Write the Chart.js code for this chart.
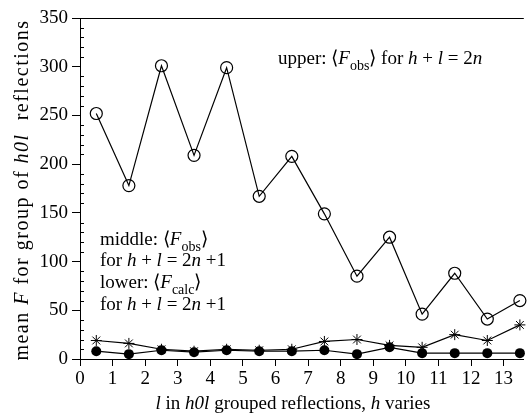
<!DOCTYPE html>
<html>
<head>
    <title>Mean F for h0l groups</title>
    <style>
        body { margin: 0; background: #fff; }
        #wrap { width: 531px; height: 414px; }
    </style>
    <script src="https://cdn.jsdelivr.net/npm/chart.js"></script>
</head>
<body>
    <div id="wrap">
        <canvas id="fChart" width="531" height="414"></canvas>
    </div>

    <script>
        // l values of the grouped reflections (group centres)
        const lValues = [0.5, 1.5, 2.5, 3.5, 4.5, 5.5, 6.5, 7.5, 8.5, 9.5, 10.5, 11.5, 12.5, 13.5];

        // upper: <Fobs> for h + l = 2n
        const upperObs = [252, 178, 301, 209, 299, 167, 208, 149, 85, 125, 46, 88, 41, 60];
        // middle: <Fobs> for h + l = 2n + 1
        const middleObs = [19, 16, 10, 8, 10, 9, 10, 18, 20, 14, 12, 25, 19, 35];
        // lower: <Fcalc> for h + l = 2n + 1
        const lowerCalc = [8, 5, 9, 7, 9, 8, 8, 9, 5, 12, 6, 6, 6, 6];

        const xTicks = [0, 1, 2, 3, 4, 5, 6, 7, 8, 9, 10, 11, 12, 13];
        const yTicks = [0, 50, 100, 150, 200, 250, 300, 350];

        const serif = '"Liberation Serif", "Times New Roman", serif';

        function toPoints(ys) {
            return lValues.map((x, i) => ({ x: x, y: ys[i] }));
        }

        // draw a run of text pieces; style 'n' normal, 'i' italic, 's' subscript
        function drawRich(ctx, x, y, segs, size, align) {
            const fontFor = s => (s === 'i' ? 'italic ' : '') + (s === 's' ? Math.round(size * 0.75) : size) + 'px ' + serif;
            let total = 0;
            segs.forEach(([t, s]) => { ctx.font = fontFor(s); total += ctx.measureText(t).width; });
            let cx = align === 'center' ? x - total / 2 : x;
            segs.forEach(([t, s]) => {
                ctx.font = fontFor(s);
                ctx.fillText(t, cx, s === 's' ? y + size * 0.3 : y);
                cx += ctx.measureText(t).width;
            });
        }

        const annotations = {
            id: 'annotations',
            afterDraw(chart) {
                const ctx = chart.ctx;
                const area = chart.chartArea;
                const yScale = chart.scales.y;
                ctx.save();
                ctx.fillStyle = '#000';
                ctx.strokeStyle = '#000';
                ctx.lineWidth = 1;

                // top frame line
                ctx.beginPath();
                ctx.moveTo(area.left, area.top + 0.5);
                ctx.lineTo(area.right, area.top + 0.5);
                ctx.stroke();

                // minor inward ticks on y axis
                for (let v = 10; v < 350; v += 10) {
                    if (v % 50 === 0) continue;
                    const py = Math.round(yScale.getPixelForValue(v)) + 0.5;
                    ctx.beginPath();
                    ctx.moveTo(area.left, py);
                    ctx.lineTo(area.left + 4, py);
                    ctx.stroke();
                }

                ctx.textBaseline = 'alphabetic';
                const fs = 19;
                drawRich(ctx, 278, 64, [['upper: \u27E8', 'n'], ['F', 'i'], ['obs', 's'], ['\u27E9 for ', 'n'], ['h', 'i'], [' + ', 'n'], ['l', 'i'], [' = 2', 'n'], ['n', 'i']], fs);
                drawRich(ctx, 100, 245, [['middle: \u27E8', 'n'], ['F', 'i'], ['obs', 's'], ['\u27E9', 'n']], fs);
                drawRich(ctx, 100, 266, [['for ', 'n'], ['h', 'i'], [' + ', 'n'], ['l', 'i'], [' = 2', 'n'], ['n', 'i'], [' +1', 'n']], fs);
                drawRich(ctx, 100, 288, [['lower: \u27E8', 'n'], ['F', 'i'], ['calc', 's'], ['\u27E9', 'n']], fs);
                drawRich(ctx, 100, 310, [['for ', 'n'], ['h', 'i'], [' + ', 'n'], ['l', 'i'], [' = 2', 'n'], ['n', 'i'], [' +1', 'n']], fs);

                // axis titles
                drawRich(ctx, 293, 409, [['l', 'i'], [' in ', 'n'], ['h0l', 'i'], [' grouped reflections, ', 'n'], ['h', 'i'], [' varies', 'n']], 19, 'center');
                ctx.translate(28, 190);
                ctx.rotate(-Math.PI / 2);
                ctx.letterSpacing = '1.5px';
                drawRich(ctx, 0, 0, [['mean ', 'n'], ['F', 'i'], [' for group of ', 'n'], ['h0l', 'i'], ['  reflections', 'n']], 20, 'center');
                ctx.restore();
            }
        };

        const ctx = document.getElementById('fChart').getContext('2d');
        new Chart(ctx, {
            type: 'line',
            data: {
                datasets: [
                    {
                        label: 'upper',
                        data: toPoints(upperObs),
                        borderColor: '#000',
                        borderWidth: 1.2,
                        pointStyle: 'circle',
                        pointRadius: 6,
                        pointBorderWidth: 1.2,
                        pointBorderColor: '#000',
                        pointBackgroundColor: 'rgba(255,255,255,0)',
                        clip: false
                    },
                    {
                        label: 'middle',
                        data: toPoints(middleObs),
                        borderColor: '#000',
                        borderWidth: 1.2,
                        pointStyle: 'star',
                        pointRadius: 5.5,
                        pointBorderWidth: 1,
                        pointBorderColor: '#000',
                        clip: false
                    },
                    {
                        label: 'lower',
                        data: toPoints(lowerCalc),
                        borderColor: '#000',
                        borderWidth: 1.2,
                        pointStyle: 'circle',
                        pointRadius: 5,
                        pointBorderWidth: 0,
                        pointBackgroundColor: '#000',
                        clip: false
                    }
                ]
            },
            options: {
                responsive: false,
                animation: false,
                devicePixelRatio: 1,
                layout: { padding: { top: 18, right: 0, left: 0, bottom: 0 } },
                plugins: {
                    legend: { display: false },
                    tooltip: { enabled: false }
                },
                elements: { line: { tension: 0 } },
                scales: {
                    x: {
                        type: 'linear',
                        min: 0,
                        max: 13.62,
                        afterBuildTicks: axis => { axis.ticks = xTicks.map(v => ({ value: v })); },
                        afterFit: axis => { axis.height = 55; },
                        ticks: { color: '#000', font: { family: serif, size: 19 }, padding: 2, maxRotation: 0 },
                        grid: { display: true, drawOnChartArea: false, drawTicks: true, tickLength: 7, color: '#000' },
                        border: { color: '#000', width: 1 }
                    },
                    y: {
                        min: 0,
                        max: 350,
                        afterBuildTicks: axis => { axis.ticks = yTicks.map(v => ({ value: v })); },
                        afterFit: axis => { axis.width = 80; },
                        ticks: { color: '#000', font: { family: serif, size: 19 }, padding: 4 },
                        grid: { display: true, drawOnChartArea: false, drawTicks: true, tickLength: 8, color: '#000' },
                        border: { color: '#000', width: 1 }
                    }
                }
            },
            plugins: [annotations]
        });
    </script>
</body>
</html>
